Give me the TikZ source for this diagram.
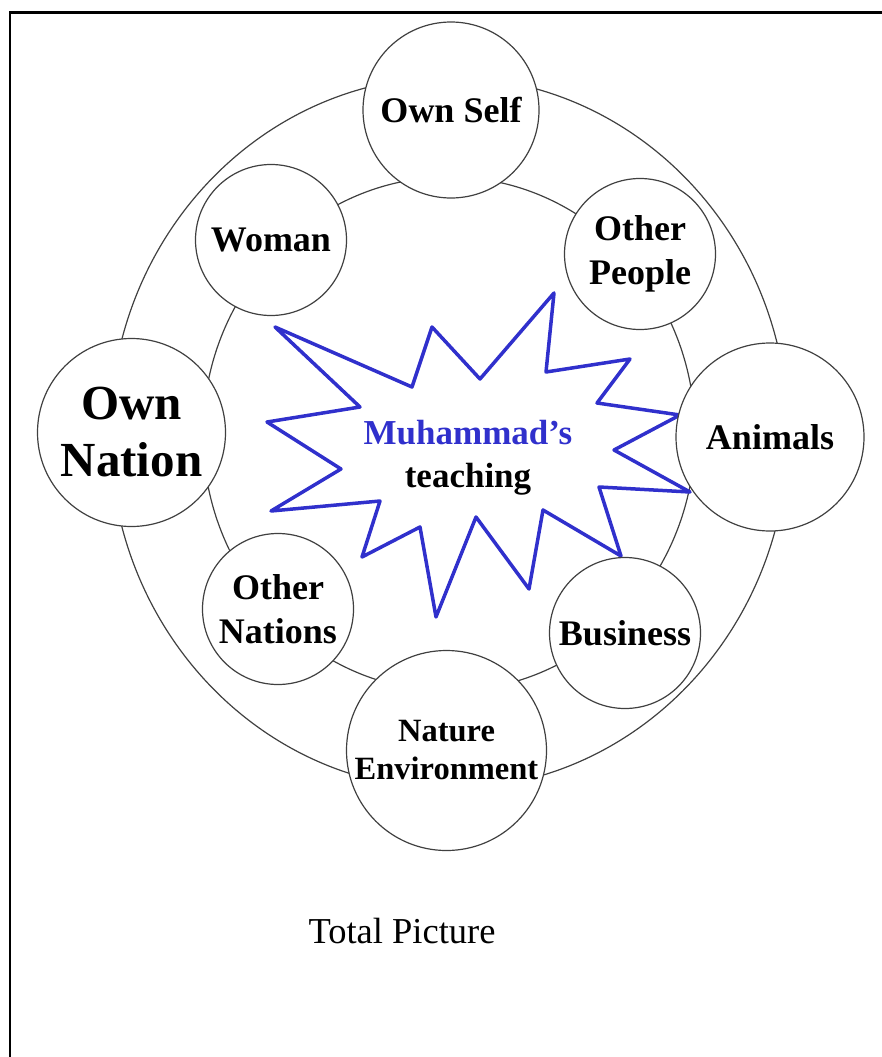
\documentclass[tikz,border=0pt]{standalone}
\usepackage{fontspec}
\setmainfont{Liberation Serif}
\usepackage{tikz}
\definecolor{starblue}{RGB}{48,48,204}
\tikzset{
  ring/.style={draw=black!75, line width=1.2pt},
  topic/.style={circle, draw=black!75, line width=1.2pt, fill=white, inner sep=0pt,
    align=center, font=\bfseries\fontsize{36}{44}\selectfont},
}

\begin{document}
\begin{tikzpicture}[x=1pt,y=-1pt]
    \useasboundingbox (0,0) rectangle (881,1057);

    % Frame
    \draw[line width=2.5pt] (9.8,1070) -- (9.8,12.5) -- (895,12.5);

    % Outer and inner ring
    \draw[ring] (449,433) ellipse [x radius=339pt, y radius=356pt];
    \draw[ring] (449,434) ellipse [x radius=246pt, y radius=257pt];

    % Star burst
    \draw[starblue, line width=3.5pt, line join=round]
      (275,327) -- (412,387) -- (432,327) -- (480,379) -- (554,293) -- (546,372)
      -- (630,359) -- (597,403) -- (680,415) -- (614,450) -- (690,492) -- (599,487)
      -- (621,556) -- (543,510) -- (529,589) -- (476,517) -- (436,617) -- (420,527)
      -- (362,557) -- (380,501) -- (271,511) -- (341,469) -- (267,422) -- (360,407)
      -- cycle;
    \node[align=center, font=\bfseries\fontsize{35}{43}\selectfont] (teaching) at (468,458)
      {\textcolor{starblue}{Muhammad’s}\\teaching};

    % Circles round the ring
    \node[topic, minimum size=176pt] (self) at (451,110) {Own Self};
    \node[topic, minimum size=151pt] (woman) at (271,240) {Woman};
    \node[topic, minimum size=151pt] (people) at (640,254) {Other\\People};
    \node[topic, minimum size=188pt, font=\bfseries\fontsize{49}{57}\selectfont] (nation) at (131.5,432.5) {Own\\Nation};
    \node[topic, minimum size=188pt] (animals) at (770,437) {Animals};
    \node[topic, minimum size=151pt] (nations) at (278,609) {Other\\Nations};
    \node[topic, minimum size=151pt] (business) at (625,633) {Business};
    \node[topic, minimum size=200pt, font=\bfseries\fontsize{32.5}{38}\selectfont] (nature) at (446.5,750.5) {Nature\\Environment};

    % Caption
    \node[font=\fontsize{36.5}{44}\selectfont] (caption) at (402,931) {Total Picture};
\end{tikzpicture}
\end{document}
